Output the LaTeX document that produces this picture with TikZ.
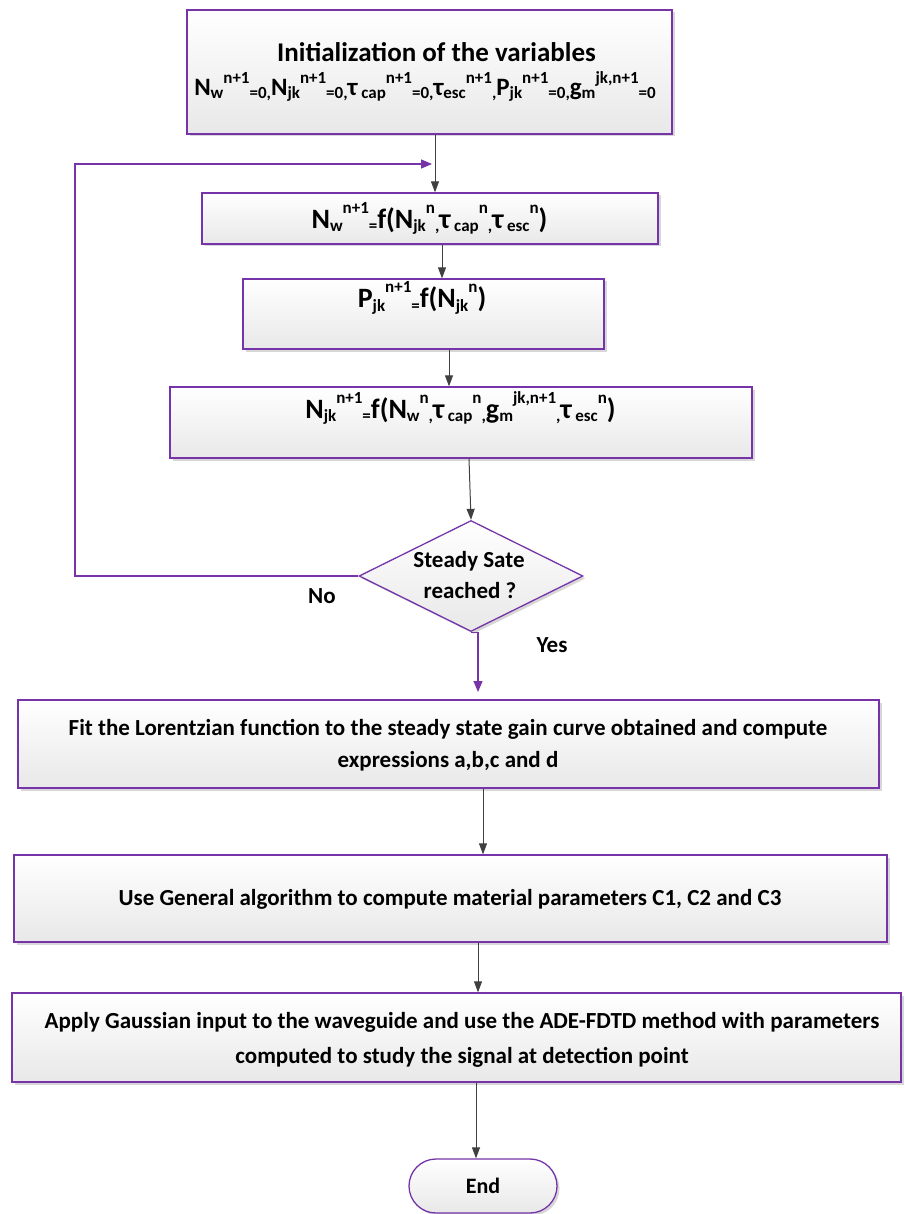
\documentclass[tikz,border=0pt]{standalone}
\usepackage{fontspec}
\setmainfont{Carlito}
\usetikzlibrary{arrows.meta,shapes.geometric,shadows}
\definecolor{edge}{RGB}{118,52,168}
\definecolor{wire}{RGB}{64,64,64}
% index helpers: lowered and raised small text, set one after the other;
% sizes and offsets come from the style of the node that uses them
\def\subsz{17}\def\lodrop{3pt}\def\hiraise{15pt}
\newcommand{\lo}[1]{\raisebox{-\lodrop}{\fontsize{\subsz}{\subsz}\selectfont #1}}
\newcommand{\hi}[1]{\raisebox{\hiraise}{\fontsize{\subsz}{\subsz}\selectfont #1}}
\tikzset{
  box/.style={draw=edge, line width=1.3pt, top color=white, bottom color=black!9,
    drop shadow={shadow xshift=2.5pt, shadow yshift=-2.5pt, fill=black!35, opacity=0.45},
    inner sep=0pt},
  txt/.style={font=\bfseries\fontsize{23}{27}\selectfont, inner sep=0pt, anchor=base},
  head/.style={font=\bfseries\fontsize{27}{31}\selectfont, inner sep=0pt, anchor=base},
  eqa/.style={font=\bfseries\fontsize{25}{29}\selectfont\def\subsz{17}\def\lodrop{2.5pt}\def\hiraise{12pt},
    inner sep=0pt, anchor=base},
  eqb/.style={font=\bfseries\fontsize{28}{32}\selectfont\def\subsz{17}\def\lodrop{3pt}\def\hiraise{15pt},
    inner sep=0pt, anchor=base},
  arr/.style={draw=wire, line width=1pt, -{Triangle[length=11pt,width=8pt]}},
  parr/.style={draw=edge, line width=1.3pt, -{Triangle[length=11pt,width=9pt]}},
}
\begin{document}
\begin{tikzpicture}[x=1pt,y=-1pt]
\useasboundingbox (0,0) rectangle (904,1214);

% process boxes
\node[box, minimum width=485, minimum height=124] (b1) at (429.5,72) {};
\node[box, minimum width=456, minimum height=51]  (b2) at (430,218.5) {};
\node[box, minimum width=361, minimum height=70]  (b3) at (423.5,314) {};
\node[box, minimum width=582, minimum height=71]  (b4) at (461,422.5) {};
\node[box, diamond, aspect=2, minimum width=224, minimum height=111] (dia) at (471,576) {};
\node[box, minimum width=861, minimum height=88]  (b5) at (448.5,744) {};
\node[box, minimum width=873, minimum height=87]  (b6) at (450.5,898.5) {};
\node[box, minimum width=889, minimum height=89]  (b7) at (456.5,1037.5) {};
\node[box, minimum width=148, minimum height=54, rounded corners=27pt] (end) at (483,1186) {};

% texts
\node[head] (t1a) at (436.5,62) {Initialization of the variables};
\node[eqa] (t1b) at (425,96) {N\lo{w}\hi{n+1}\lo{=0,}N\lo{jk}\hi{n+1}\lo{=0,}τ\lo{ cap}\hi{n+1}\lo{=0,}τ\lo{esc}\hi{n+1}\lo{,}P\lo{jk}\hi{n+1}\lo{=0,}g\lo{m}\hi{jk,n+1}\lo{=0}};
\node[eqb] (t2) at (429.5,229) {N\lo{w}\hi{n+1}\lo{=}f(N\lo{jk}\hi{n}\lo{,}τ\lo{ cap}\hi{n}\lo{,}τ\lo{ esc}\hi{n})};
\node[eqb] (t3) at (422,308) {P\lo{jk}\hi{n+1}\lo{=}f(N\lo{jk}\hi{n})};
\node[eqb] (t4) at (460.5,418) {N\lo{jk}\hi{n+1}\lo{=}f(N\lo{w}\hi{n}\lo{,}τ\lo{ cap}\hi{n}\lo{,}g\lo{m}\hi{jk,n+1}\lo{,}τ\lo{ esc}\hi{n})};
\node[txt] (d1) at (469,567) {Steady Sate};
\node[txt] (d2) at (470,598) {reached ?};
\node[txt] (no) at (322,603) {No};
\node[txt] (yes) at (552,652) {Yes};
\node[txt] (t5a) at (448,735) {Fit the Lorentzian function to the steady state gain curve obtained and compute};
\node[txt] (t5b) at (448,767) {expressions a,b,c and d};
\node[txt] (t6) at (450,905) {Use General algorithm to compute material parameters C1, C2 and C3};
\node[txt] (t7a) at (462,1028) {Apply Gaussian input to the waveguide and use the ADE-FDTD method with parameters};
\node[txt] (t7b) at (462,1063) {computed to study the signal at detection point};
\node[txt, font=\bfseries\fontsize{22}{26}\selectfont] (t8) at (483,1193) {End};

% connector columns
\coordinate (c1) at (435,0);
\coordinate (c2) at (442,0);
\coordinate (c3) at (449,0);
\coordinate (c4) at (469,0);
\coordinate (c5) at (478,0);
\coordinate (c6) at (483,0);
\coordinate (c7) at (478,0);
\coordinate (c8) at (476,0);
\coordinate (loop) at (75,164);
\coordinate (join) at (432,164);
\coordinate (yesend) at (478,692);

\draw[arr] (b1.south -| c1) -- (b2.north -| c1);
\draw[arr] (b2.south -| c2) -- (b3.north -| c2);
\draw[arr] (b3.south -| c3) -- (b4.north -| c3);
\draw[arr] (b4.south -| c4) -- (dia.north);
\draw[parr] (dia.south) -- (dia.south -| c5) -- (yesend);
\draw[parr] (dia.west) -| (loop) -- (join);
\draw[arr] (b5.south -| c6) -- (b6.north -| c6);
\draw[arr] (b6.south -| c7) -- (b7.north -| c7);
\draw[arr] (b7.south -| c8) -- (end.north -| c8);
\end{tikzpicture}
\end{document}
